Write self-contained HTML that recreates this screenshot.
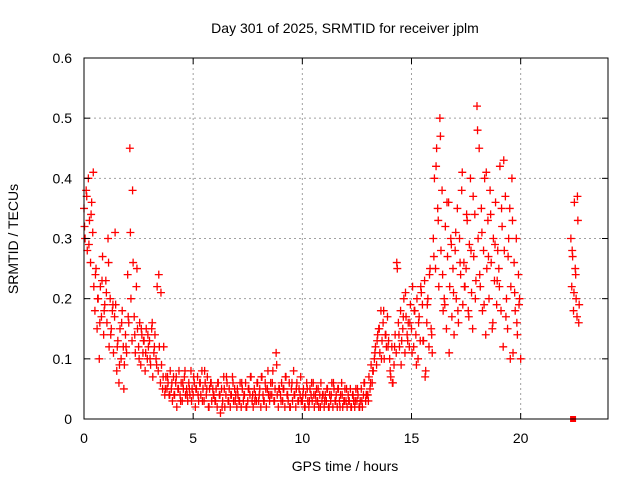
<!DOCTYPE html>
<html><head><meta charset="utf-8"><style>
html,body{margin:0;padding:0;background:#fff;}
svg{display:block;font-family:"Liberation Sans",sans-serif;}
</style></head><body>
<svg id="chart" width="640" height="480">
<text x="345" y="33" font-size="14" text-anchor="middle">Day 301 of 2025, SRMTID for receiver jplm</text>
<text x="345" y="471" font-size="14" text-anchor="middle">GPS time / hours</text>
<text transform="translate(18,239) rotate(-90)" font-size="14" text-anchor="middle">SRMTID / TECUs</text>
<g id="grid"></g><g id="marks"></g><g id="axes"></g>
</svg>
<script>
const xTicks=[0,5,10,15,20];
const yTicks=[0,0.1,0.2,0.3,0.4,0.5,0.6];
const yTickLabels=["0","0.1","0.2","0.3","0.4","0.5","0.6"];
const startTime=0, timeStep=0.05;
const mainValues=[
0.35,0.30,0.38,0.28,0.40,0.33,0.26,0.36,0.31,0.22,
0.18,0.25,0.15,0.20,0.10,0.22,0.17,0.27,0.14,0.19,
0.23,0.16,0.30,0.12,0.20,0.15,0.18,0.11,0.17,0.19,
0.08,0.13,0.06,0.15,0.10,0.18,0.12,0.09,0.14,0.11,
0.24,0.16,0.45,0.20,0.13,0.26,0.17,0.11,0.22,0.15,
0.12,0.16,0.09,0.14,0.11,0.13,0.08,0.15,0.10,0.12,
0.13,0.09,0.15,0.07,0.11,0.14,0.10,0.22,0.08,0.12,
0.06,0.09,0.05,0.12,0.04,0.07,0.05,0.06,0.04,0.08,
0.05,0.03,0.07,0.04,0.06,0.02,0.05,0.08,0.04,0.06,0.03,0.05,0.07,0.04,0.05,0.03,0.06,0.04,0.08,0.05,
0.04,0.06,0.02,0.05,0.07,0.03,0.06,0.04,0.08,0.05,0.03,0.06,0.04,0.07,0.02,0.05,0.06,0.03,0.05,0.04,
0.03,0.05,0.02,0.06,0.04,0.01,0.05,0.03,0.07,0.02,0.04,0.06,0.03,0.05,0.02,0.04,0.07,0.03,0.05,0.04,
0.02,0.04,0.03,0.06,0.02,0.05,0.03,0.04,0.06,0.02,0.03,0.05,0.04,0.07,0.03,0.02,0.05,0.04,0.03,0.06,
0.03,0.05,0.02,0.07,0.04,0.03,0.06,0.02,0.05,0.04,0.03,0.06,0.04,0.08,0.03,0.05,0.11,0.04,0.02,0.05,
0.04,0.06,0.03,0.05,0.02,0.07,0.04,0.03,0.06,0.02,0.05,0.03,0.08,0.04,0.02,0.06,0.03,0.05,0.04,0.03,
0.03,0.05,0.02,0.04,0.06,0.03,0.02,0.05,0.04,0.03,0.06,0.02,0.04,0.05,0.03,0.02,0.04,0.06,0.03,0.04,
0.02,0.04,0.03,0.05,0.02,0.04,0.03,0.06,0.02,0.05,0.03,0.04,0.02,0.05,0.03,0.04,0.06,0.02,0.03,0.05,
0.03,0.02,0.04,0.03,0.05,0.02,0.04,0.03,0.02,0.05,0.03,0.04,0.02,0.03,0.05,0.02,0.04,0.06,0.03,0.04,
0.04,0.07,0.05,0.09,0.06,0.08,0.10,0.12,0.09,0.14,
0.15,0.11,0.18,0.13,0.16,0.10,0.14,0.12,0.17,0.13,
0.10,0.07,0.12,0.06,0.09,0.14,0.11,0.25,0.16,0.12,
0.18,0.13,0.15,0.20,0.11,0.17,0.14,0.16,0.12,0.19,
0.15,0.22,0.12,0.18,0.14,0.20,0.10,0.17,0.13,0.21,
0.19,0.13,0.23,0.08,0.16,0.20,0.12,0.25,0.15,0.11,
0.30,0.40,0.25,0.45,0.35,0.22,0.50,0.28,0.38,0.18,
0.20,0.32,0.15,0.27,0.36,0.22,0.30,0.17,0.25,0.14,
0.28,0.20,0.35,0.16,0.30,0.24,0.38,0.19,0.26,0.22,
0.25,0.33,0.18,0.29,0.40,0.21,0.15,0.27,0.34,0.23,
0.52,0.30,0.45,0.22,0.35,0.18,0.28,0.40,0.14,0.25,
0.33,0.20,0.38,0.26,0.15,0.30,0.23,0.36,0.19,0.28,
0.25,0.42,0.18,0.32,0.12,0.28,0.37,0.20,0.15,0.30,
0.35,0.22,0.40,0.11,0.26,0.18,0.30,0.14,0.24,0.20,
0.10];
const secondStart=0.025, secondStep=0.1;
const secondValues=[
0.32,0.37,0.29,0.34,0.41,0.24,0.20,0.16,0.23,0.18,
0.21,0.26,0.14,0.19,0.31,0.12,0.09,0.16,0.05,0.12,
0.17,0.31,0.38,0.14,0.25,0.10,0.15,0.13,0.11,0.14,
0.10,0.16,0.12,0.09,0.24,0.21,0.07,0.05,0.07,0.04,
0.06,0.04,0.07,0.05,0.03,0.06,0.08,0.04,0.05,0.03,
0.07,0.05,0.04,0.06,0.03,0.08,0.05,0.02,0.06,0.04,
0.03,0.06,0.04,0.02,0.05,0.07,0.03,0.04,0.06,0.03,
0.05,0.03,0.06,0.04,0.02,0.05,0.07,0.04,0.03,0.06,
0.04,0.07,0.03,0.05,0.08,0.04,0.06,0.03,0.09,0.05,
0.03,0.05,0.07,0.04,0.02,0.06,0.04,0.05,0.03,0.07,
0.04,0.02,0.05,0.03,0.06,0.04,0.03,0.05,0.02,0.04,
0.03,0.05,0.02,0.04,0.06,0.03,0.05,0.02,0.04,0.03,
0.05,0.03,0.02,0.04,0.03,0.05,0.02,0.03,0.06,0.04,
0.03,0.06,0.08,0.11,0.13,0.15,0.10,0.18,0.14,0.12,
0.08,0.06,0.12,0.26,0.14,0.09,0.17,0.21,0.13,0.16,
0.11,0.18,0.09,0.16,0.22,0.13,0.07,0.19,0.24,0.14,
0.27,0.42,0.33,0.47,0.24,0.19,0.36,0.11,0.29,0.21,
0.31,0.18,0.26,0.41,0.22,0.34,0.17,0.28,0.37,0.20,
0.48,0.24,0.31,0.19,0.41,0.27,0.34,0.16,0.29,0.23,
0.22,0.35,0.43,0.17,0.27,0.10,0.33,0.21,0.16,0.19];
const lateTimes=[22.3,22.34,22.38,22.42,22.46,22.5,22.54,22.58,22.62,22.66,22.36,22.44,22.52,22.6,22.68];
const lateValues=[0.30,0.22,0.27,0.18,0.36,0.25,0.20,0.17,0.33,0.16,0.28,0.21,0.24,0.37,0.19];
const squareTimes=[22.4];
const squareValues=[0];

const L=84,R=608,T=58,B=419,XMAX=24,YMAX=0.6;
const xs=v=>L+(R-L)*v/XMAX, ys=v=>B-(B-T)*v/YMAX;
const NS='http://www.w3.org/2000/svg';
function mk(tag,attrs,parent){const e=document.createElementNS(NS,tag);for(const k in attrs)e.setAttribute(k,attrs[k]);parent.appendChild(e);return e;}
const grid=document.getElementById('grid'),axes=document.getElementById('axes'),marks=document.getElementById('marks');
xTicks.forEach(t=>{
 const x=xs(t);
 if(t>0){const g=mk('line',{x1:x,x2:x,y1:T,y2:B,stroke:'#a0a0a0','stroke-dasharray':'2,3'},grid);
 
 }
 mk('line',{x1:x,x2:x,y1:B,y2:B-6,stroke:'#000'},axes);
 mk('line',{x1:x,x2:x,y1:T,y2:T+6,stroke:'#000'},axes);
 const tx=mk('text',{x:x,y:B+24,'font-size':14,'text-anchor':'middle'},axes);tx.textContent=t;
 
 
});
yTicks.forEach((t,i)=>{
 const y=ys(t);
 if(t>0&&t<YMAX){const g=mk('line',{x1:L,x2:R,y1:y,y2:y,stroke:'#a0a0a0','stroke-dasharray':'2,3'},grid);
 
 }
 mk('line',{x1:L,x2:L+6,y1:y,y2:y,stroke:'#000'},axes);
 mk('line',{x1:R,x2:R-6,y1:y,y2:y,stroke:'#000'},axes);
 const tx=mk('text',{x:L-12,y:y+5,'font-size':14,'text-anchor':'end'},axes);tx.textContent=yTickLabels[i];
 
 
});
const fr=mk('rect',{x:L,y:T,width:R-L,height:B-T,fill:'none',stroke:'#000'},axes);


function plus(t,v){const x=xs(t),y=ys(v);
 const p=mk('path',{d:`M${x-4},${y}h8M${x},${y-4}v8`,stroke:'#f00','stroke-width':1.3,fill:'none'},marks);
 
 }
mainValues.forEach((v,i)=>plus(startTime+i*timeStep,v));
secondValues.forEach((v,i)=>plus(secondStart+i*secondStep,v));
lateValues.forEach((v,i)=>plus(lateTimes[i],v));
squareValues.forEach((v,i)=>{const r=mk('rect',{x:xs(squareTimes[i])-3,y:ys(v)-3,width:6,height:6,fill:'#f00'},marks);
 
 });
</script>
</body></html>
